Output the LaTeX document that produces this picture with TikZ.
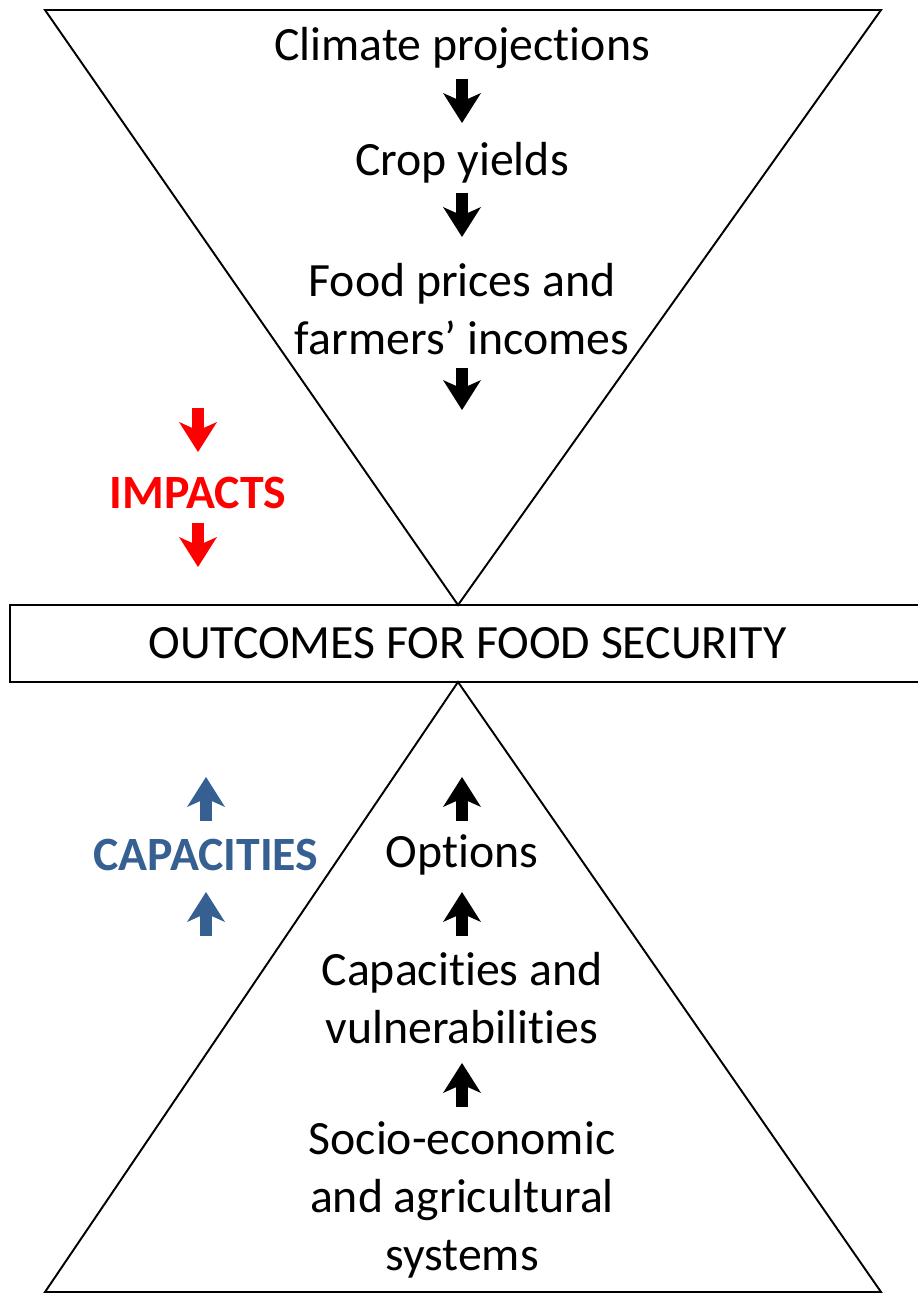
\documentclass[tikz,border=0pt]{standalone}
\usepackage{fontspec}
\setmainfont{Carlito}[Ligatures={NoCommon}]
\usetikzlibrary{arrows.meta}
\definecolor{impred}{RGB}{255,0,0}
\definecolor{capblue}{RGB}{55,96,146}

\begin{document}
\begin{tikzpicture}[
  x=0.02cm, y=-0.02cm,
  txt/.style={font=\fontsize{27.2}{32.9}\selectfont,align=center,inner sep=0pt},
  tri/.style={draw,line width=1.1pt,line join=miter},
  blk/.style={line width=0.24cm,-{Stealth[length=0.6cm,width=0.76cm,inset=0.17cm,line width=0pt]}}
]
\useasboundingbox (0,0) rectangle (917,1293);

% the two funnels
\draw[tri] (45,10) -- (881,10) -- (458,605) -- cycle;
\draw[tri] (458,682) -- (881,1292) -- (45,1292) -- cycle;

% centre box
\node[draw,line width=1.1pt,minimum width=18.3cm,minimum height=1.54cm,inner sep=0pt,
  font=\fontsize{27.2}{32.9}\selectfont] (outcome) at (467.5,643.5) {OUTCOMES FOR FOOD SECURITY};

% impacts chain
\node[txt] (clim) at (462,48) {Climate projections};
\node[txt] (crop) at (462,163) {Crop yields};
\node[txt] (food) at (462,309) {Food prices and\\farmers' incomes};
\node[txt,font=\fontsize{27.2}{32.9}\selectfont\bfseries,text=impred] (impacts) at (198,493) {IMPACTS};
\coordinate (imptop) at (198,408);

% capacities chain
\node[txt] (opts) at (462,855) {Options};
\node[txt] (capvul) at (462,998) {Capacities and\\vulnerabilities};
\node[txt] (socio) at (462,1200) {Socio-economic\\and agricultural\\systems};
\node[txt,font=\fontsize{27.2}{32.9}\selectfont\bfseries,text=capblue] (capac) at (206,855) {CAPACITIES};
\coordinate (capbot) at (206,936);

% down arrows
\draw[blk,shorten <=0.62cm,shorten >=0.8cm] (clim.center) -- (crop.center);
\draw[blk,shorten <=0.6cm,shorten >=1.44cm] (crop.center) -- (food.center);
\draw[blk,shorten <=1.18cm,shorten >=4.67cm] (food.center) -- (food.center |- outcome.center);
\draw[blk,impred,shorten >=0.82cm] (imptop) -- (impacts.center);
\draw[blk,impred,shorten <=0.6cm,shorten >=1.53cm] (impacts.center) -- (impacts.center |- outcome.center);

% up arrows
\draw[blk,shorten <=0.68cm,shorten >=2.67cm] (opts.center) -- (opts.center |- outcome.center);
\draw[blk,shorten <=1.24cm,shorten >=0.74cm] (capvul.center) -- (opts.center);
\draw[blk,shorten <=1.86cm,shorten >=1.3cm] (socio.center) -- (capvul.center);
\draw[blk,capblue,shorten <=0.68cm,shorten >=2.67cm] (capac.center) -- (capac.center |- outcome.center);
\draw[blk,capblue,shorten >=0.74cm] (capbot) -- (capac.center);
\end{tikzpicture}
\end{document}
